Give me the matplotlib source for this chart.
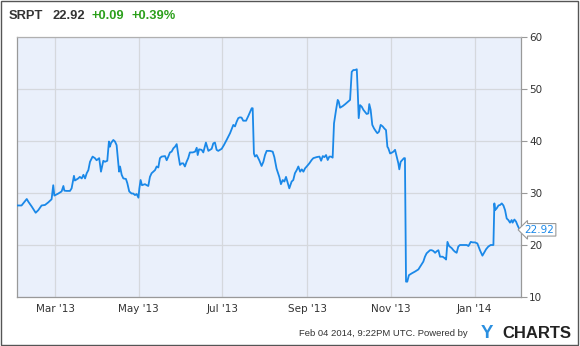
import matplotlib
matplotlib.use("Agg")
import matplotlib.pyplot as plt
import matplotlib.dates as mdates
import matplotlib.transforms as mtransforms
from matplotlib.patches import Rectangle
from datetime import datetime

# ---- data ----
start_date = "2013-02-01"
day_offsets = [
    0.5, 3.6, 4.8, 7.4, 8.6, 11.0, 13.9, 15.8, 18.2, 20.7, 23.1, 25.5, 26.7, 27.5,
    30.4, 32.8, 34.1, 34.8, 36.5, 38.9, 40.1, 41.8, 42.5, 44.9, 46.1, 47.5, 48.7,
    49.9, 51.1, 52.3, 53.5, 55.4, 57.1, 58.3, 60.2, 61.5, 63.2, 64.4, 66.1, 67.3,
    68.0, 68.8, 70.5, 71.7, 72.9, 73.7, 74.7, 75.4, 76.6, 77.8, 79.7, 80.7, 82.1,
    83.8, 85.0, 86.3, 87.5, 88.8, 89.5, 90.4, 91.4, 93.6, 94.8, 96.0, 97.2, 98.4,
    100.9, 102.1, 103.3, 104.5, 105.7, 108.2, 109.4, 110.6, 111.8, 113.0, 114.3,
    115.5, 116.7, 117.9, 119.1, 120.3, 121.5, 122.7, 123.9, 125.1, 126.3, 128.4,
    130.1, 131.3, 132.0, 133.0, 134.9, 136.1, 138.0, 139.8, 142.2, 143.4, 144.6,
    145.8, 147.0, 149.5, 151.1, 153.1, 155.6, 158.0, 159.2, 160.4, 161.6, 162.8,
    164.0, 165.2, 167.3, 168.9, 170.2, 171.4, 172.1, 173.0, 173.8, 175.0, 176.9,
    178.6, 179.9, 181.1, 182.3, 184.7, 186.7, 187.9, 189.5, 191.5, 192.7, 194.0,
    195.2, 196.4, 197.4, 198.8,
    200.5, 201.7, 202.9, 204.2, 205.4, 206.7, 207.9, 209.1, 210.3, 211.5, 213.4,
    215.1, 216.3, 218.7, 220.8, 222.0, 223.2, 224.4, 225.6, 226.8, 228.0, 229.2,
    230.4, 231.4, 232.9, 234.1, 234.8, 235.8, 237.7, 239.4, 241.8, 243.1, 244.3,
    245.5, 246.8, 248.0, 248.7, 249.4, 250.4, 251.6, 252.8, 254.0, 255.2, 256.4,
    257.1, 258.1, 259.3, 260.6, 262.1, 263.0, 264.2, 265.4, 266.9, 268.1, 269.3,
    270.3, 271.0, 272.3, 273.5, 274.7, 275.9, 277.1, 278.3, 279.0, 280.0, 281.2,
    282.4, 283.1, 283.9, 284.8, 286.0, 288.1, 290.5, 292.9, 294.1, 295.3, 296.5,
    297.7, 298.9, 300.2, 301.4, 302.6, 303.8, 305.1, 306.3, 307.5, 308.7, 310.6,
    312.4, 313.1, 314.1, 315.3, 317.2, 318.4, 319.6, 320.8, 322.0, 323.2, 325.8,
    328.2, 329.4, 331.1, 332.5, 334.2, 335.9, 337.8, 339.6, 340.8, 342.3, 343.9,
    345.6, 347.6, 348.3, 348.8, 350.0, 351.3, 352.5, 353.7, 354.9, 356.1, 357.3,
    358.5, 359.7, 360.9, 361.6, 362.9, 364.1, 365.1, 366.6, 367.5,
]
prices = [
    27.6, 27.6, 28.0, 28.85, 28.3, 27.4, 26.2, 26.7, 27.6, 27.7, 28.2, 28.8, 31.5, 29.5,
    29.9, 30.3, 31.35, 30.45, 30.4, 30.4, 30.9, 33.3, 32.4, 32.8, 33.1, 32.8, 33.5,
    32.8, 33.8, 34.4, 36.0, 37.0, 36.7, 36.3, 36.7, 34.1, 36.2, 36.0, 36.2, 39.9,
    38.9, 39.6, 40.2, 39.9, 39.2, 37.0, 34.1, 35.1, 33.5, 32.8, 32.7, 31.9, 30.3,
    29.9, 29.9, 29.6, 29.8, 29.1, 30.9, 32.5, 31.5, 31.7, 31.5, 31.35, 33.1, 33.8,
    34.4, 35.1, 34.9, 36.7, 37.0, 37.1, 36.3, 37.0, 37.8, 37.95, 38.6,
    38.9, 39.4, 37.3, 35.4, 35.7, 35.7, 35.1, 36.0, 36.7, 37.8, 37.8,
    37.95, 38.7, 37.3, 38.4, 38.3, 37.8, 39.7, 38.1, 38.5, 39.55, 39.7,
    38.3, 38.1, 38.5, 39.2, 40.2, 41.5, 43.1, 42.8, 43.7, 44.4, 44.55,
    44.5, 43.9, 43.9, 44.8, 45.6, 46.3, 46.3, 37.6, 37.0, 37.3, 36.3,
    35.2, 36.0, 37.3, 38.1, 38.1, 37.95, 36.9, 34.7, 33.1, 31.7, 32.5,
    32.2, 33.1, 32.2, 30.9,
    32.2, 32.5, 33.8, 34.4, 35.1, 34.1, 34.55, 34.1, 34.75, 35.1, 35.7,
    36.35, 36.7, 36.9, 37.0, 36.2, 37.1, 36.9, 37.3, 36.35, 37.0, 37.0,
    36.8, 43.4, 46.0, 47.9, 47.6, 46.4, 46.7, 47.05, 47.6, 47.9, 53.3,
    53.65, 53.65, 53.8, 49.5, 44.4, 46.9, 46.6, 46.0, 45.6, 45.2, 45.3,
    47.1, 46.0, 43.1, 42.4, 41.8, 41.5, 41.8, 43.1, 42.8, 42.4, 42.1,
    38.9, 38.6, 37.6, 37.75, 37.95, 38.3, 37.0, 35.7, 34.55, 36.0, 36.35,
    36.7, 36.7, 12.95, 12.95, 14.2, 14.55, 14.9, 15.3, 15.8, 16.3, 16.8,
    17.75, 18.4, 18.7, 19.0, 19.0, 18.85, 18.5, 18.8, 19.0, 17.75, 17.75,
    17.4, 17.2, 20.6, 19.8, 19.4, 19.0, 18.7, 18.5, 19.7, 20.0, 20.0,
    20.0, 19.8, 20.6, 20.5, 20.5, 20.3, 19.0, 17.95, 18.5, 19.2, 19.7,
    20.0, 20.0, 28.0, 26.7, 27.05, 27.6, 27.7, 28.0, 27.6, 26.7, 25.1,
    24.8, 24.3, 24.8, 24.3, 24.9, 24.5, 23.85, 23.0, 22.92,
]
x_range_days = [0.5, 367.5]
tick_dates = ["2013-03-01", "2013-05-01", "2013-07-01", "2013-09-01", "2013-11-01", "2014-01-01"]
tick_labels = ["Mar '13", "May '13", "Jul '13", "Sep '13", "Nov '13", "Jan '14"]
y_ticks = [10, 20, 30, 40, 50, 60]
ticker = "SRPT"
last_price = "22.92"
change_abs = "+0.09"
change_pct = "+0.39%"
footer = "Feb 04 2014, 9:22PM UTC. Powered by"

# ---- figure ----
W, H = 580, 346
fig = plt.figure(figsize=(W / 100, H / 100), dpi=100)
fig.patch.set_facecolor("white")

def fx(px):
    return px / W

def fy(py):
    return 1 - py / H

ax_l, ax_r, ax_t, ax_b = 17.3, 520.7, 37, 297
ax = fig.add_axes([fx(ax_l), fy(ax_b), fx(ax_r - ax_l), (ax_b - ax_t) / H])
ax.set_facecolor("#eaf0fb")

base = mdates.date2num(datetime.strptime(start_date, "%Y-%m-%d"))
xs = [base + d for d in day_offsets]
line_color = "#1a88e8"
ax.plot(xs, prices, color=line_color, lw=1.3, solid_joinstyle="round", zorder=3)

ax.set_xlim(base + x_range_days[0], base + x_range_days[1])
ax.set_ylim(10, 60)

tick_nums = [mdates.date2num(datetime.strptime(t, "%Y-%m-%d")) for t in tick_dates]
ax.set_xticks(tick_nums)
ax.set_xticklabels(tick_labels)
ax.set_yticks(y_ticks)
ax.set_yticklabels([str(v) for v in y_ticks])
ax.yaxis.tick_right()
ax.tick_params(axis="x", length=0, pad=5, labelsize=7.5, labelcolor="#333333")
ax.tick_params(axis="y", length=4, width=0.8, color="#999999", pad=2,
               labelsize=7.5, labelcolor="#333333")
ax.grid(True, color="#d5d8dd", lw=0.9, zorder=0)
ax.set_axisbelow(True)
for side in ["left", "bottom", "right"]:
    ax.spines[side].set_color("#999999")
    ax.spines[side].set_linewidth(0.9)
ax.spines["top"].set_color("#b0b0b0")
ax.spines["top"].set_linewidth(0.9)

# last value flag
trans = mtransforms.blended_transform_factory(ax.transAxes, ax.transData)
ax.text(1.008, prices[-1], last_price, transform=trans, ha="left", va="center",
        fontsize=7.5, color=line_color, clip_on=False,
        bbox=dict(boxstyle="larrow,pad=0.12", fc="white", ec="#999999", lw=0.8))

# header
hdr_y = fy(16)
hdr_kw = dict(fontsize=9.3, fontweight="bold", family="Liberation Sans",
              va="center", ha="left")
fig.text(fx(9), hdr_y, ticker, color="#333333", **hdr_kw)
fig.text(fx(52.5), hdr_y, last_price, color="#333333", **hdr_kw)
fig.text(fx(91.5), hdr_y, change_abs, color="#2ca01c", **hdr_kw)
fig.text(fx(132), hdr_y, change_pct, color="#2ca01c", **hdr_kw)

# footer
fig.text(fx(468), fy(334), footer, fontsize=6.8, color="#333333",
         family="Liberation Sans", va="center", ha="right")
fig.text(fx(481), fy(333), "Y", fontsize=13.5, fontweight="bold", color="#2a8fe0",
         family="Liberation Sans", va="center", ha="left")
fig.text(fx(571), fy(333), "CHARTS", fontsize=12, fontweight="bold", color="#222222",
         family="Liberation Sans", va="center", ha="right")

# outer frame
fig.patches.append(Rectangle((fx(0.5), fy(344.5)), fx(577.5), fy(1) - fy(344.5),
                             transform=fig.transFigure, fill=False,
                             ec="#555555", lw=1.0))

fig.savefig("out.png", dpi=100)
